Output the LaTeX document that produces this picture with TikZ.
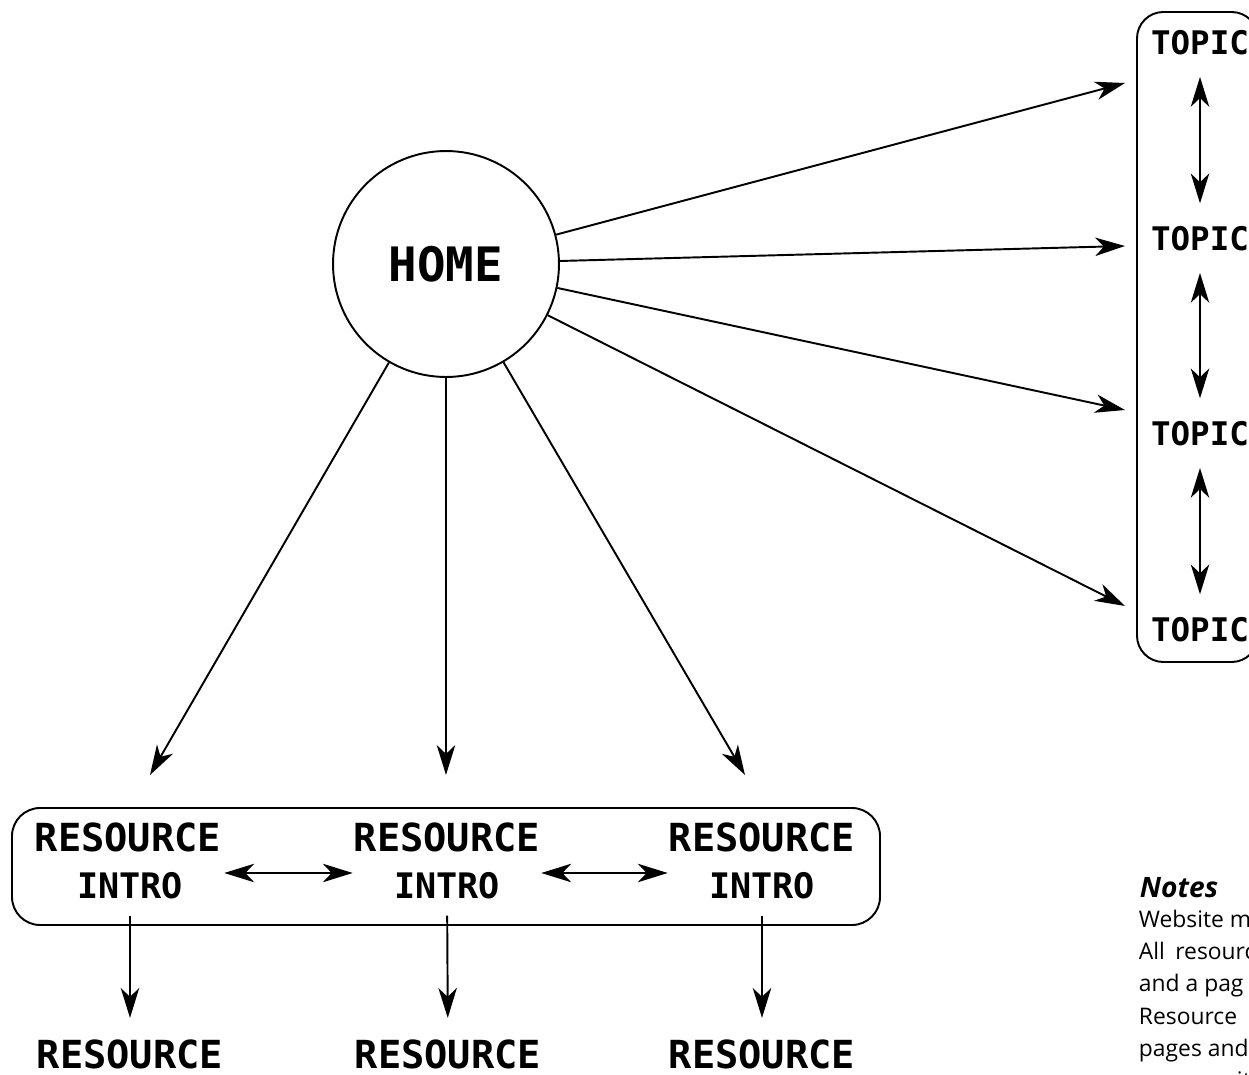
\documentclass[tikz,border=0pt]{standalone}
\usepackage{fontspec}
\setmonofont{DejaVu Sans Mono}
\setsansfont{Open Sans}
\usetikzlibrary{arrows.meta, positioning}
\tikzset{every picture/.style={line width=1.1pt}}

\begin{document}
\begin{tikzpicture}[x=0.02cm, y=-0.02cm,
        >={Stealth[length=17pt,width=10.5pt,inset=5pt]},
        every node/.style={inner sep=0pt, text depth=0pt},
        home/.style={draw, circle, minimum size=4.52cm, font=\ttfamily\bfseries\fontsize{27}{29}\selectfont, text height=19.7pt},
        topic/.style={font=\ttfamily\bfseries\fontsize{18.5}{20}\selectfont, text height=13.5pt},
        res/.style={font=\ttfamily\bfseries\fontsize{22}{24}\selectfont, text height=16pt},
        intro/.style={font=\ttfamily\bfseries\fontsize{20}{22}\selectfont, text height=14.6pt},
        note/.style={anchor=base west, font=\sffamily\fontsize{13}{15}\selectfont}]
    \useasboundingbox (0,0) rectangle (1249,1075);

    \node[home] (home) at (446,264) {HOME};

    % topic pages
    \draw[rounded corners=15pt] (1137,12) rectangle (1258,662);
    \node[topic] (tp1) at (1200,43) {TOPIC};
    \node[topic] (tp2) at (1200,239) {TOPIC};
    \node[topic] (tp3) at (1200,434) {TOPIC};
    \node[topic] (tp4) at (1200,630) {TOPIC};
    \coordinate (tin1) at (1125,83);
    \coordinate (tin2) at (1125,246);
    \coordinate (tin3) at (1125,410);
    \coordinate (tin4) at (1125,606);

    % resource pages
    \draw[rounded corners=16pt] (12,808) rectangle (880,925);
    \node[res] (rs1) at (128,837) {RESOURCE};
    \node[res] (rs2) at (447,837) {RESOURCE};
    \node[res] (rs3) at (762,837) {RESOURCE};
    \node[intro] (ir1) at (130,886) {INTRO};
    \node[intro] (ir2) at (447,886) {INTRO};
    \node[intro] (ir3) at (762,886) {INTRO};
    \node[res] (rb1) at (130,1054) {RESOURCE};
    \node[res] (rb2) at (448,1054) {RESOURCE};
    \node[res] (rb3) at (762,1054) {RESOURCE};
    \coordinate (rin1) at (150,775);
    \coordinate (rin2) at (446,775);
    \coordinate (rin3) at (745,775);

    \draw
        (home) edge[->] (tin1)
        (home) edge[->] (tin2)
        (home) edge[->] (tin3)
        (home) edge[->] (tin4)
        (home) edge[->] (rin1)
        (home) edge[->] (rin2)
        (home) edge[->] (rin3)
        (tp1) edge[<->, shorten <=12pt, shorten >=13pt] (tp2)
        (tp2) edge[<->, shorten <=12pt, shorten >=13pt] (tp3)
        (tp3) edge[<->, shorten <=12pt, shorten >=13pt] (tp4)
        ([yshift=7.4pt]ir1.east) edge[<->, shorten <=23pt, shorten >=23pt] ([yshift=7.4pt]ir2.west)
        ([yshift=7.4pt]ir2.east) edge[<->, shorten <=23pt, shorten >=23pt] ([yshift=7.4pt]ir3.west)
        (ir1) edge[->, shorten <=9pt, shorten >=12pt] (rb1)
        (ir2) edge[->, shorten <=9pt, shorten >=12pt] (rb2)
        (ir3) edge[->, shorten <=9pt, shorten >=12pt] (rb3)
        ;

    % notes
    \node[note, font=\sffamily\bfseries\itshape\fontsize{16}{18}\selectfont] (notes) at (1139,897) {Notes};
    \foreach \txt [count=\i] in {Website m, All\hspace{2.5pt} resourc, and a pag, Resource, pages and}
        \node[note] (nl\i) at (1138,895+32.3*\i) {\txt};
    \node[note] (nl6) at (1236,1088) {ith};
\end{tikzpicture}
\end{document}
